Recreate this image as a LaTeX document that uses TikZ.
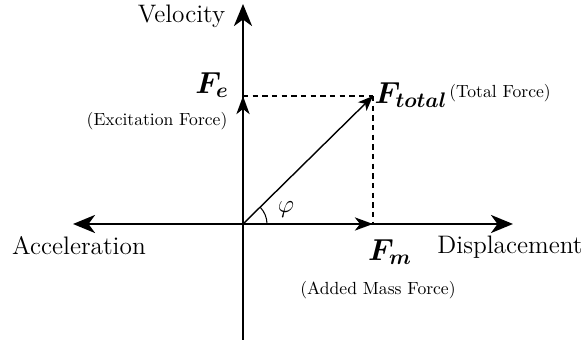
\documentclass[tikz,border=0pt]{standalone}
\usepackage{bm}
\usetikzlibrary{arrows.meta,calc}
\begin{document}
\begin{tikzpicture}[
  axis/.style={line width=1.6pt,-{Stealth[length=4.4mm,width=3.6mm,inset=1.3mm]}},
  comp/.style={line width=1.6pt,-{Stealth[length=3.6mm,width=2.6mm,inset=1mm]}},
  vec/.style={line width=0.8pt,-{Stealth[length=3mm,width=2.4mm,inset=0.8mm]}},
  proj/.style={line width=0.6pt,dash pattern=on 3pt off 2.5pt},
  big/.style={font=\Large},
  force/.style={font=\LARGE}]
\useasboundingbox (0,0) rectangle (11.72,6.88);

% axes
\coordinate (O) at (4.86,2.40);
\coordinate (top) at (4.86,6.80);
\coordinate (bot) at (4.86,0.08);
\coordinate (left) at (1.46,2.40);
\coordinate (right) at (10.26,2.40);
\draw[line width=1.6pt] (O) -- (bot);
\draw[axis] (O) -- (top);
\draw[axis] (O) -- (left);
\draw[axis] (O) -- (right);

% force vector and its components
\coordinate (T) at (7.46,4.96);
\coordinate (Fe) at (4.86,4.96);
\coordinate (Fm) at (7.46,2.40);
\draw[proj] (Fe) -- (T);
\draw[proj] (T) -- (Fm);
\draw[comp] (O) -- (Fe);
\draw[comp] (O) -- (Fm);
\draw[vec] (O) -- (T);
\draw[line width=0.6pt] ($(O)+(0.48,0)$) arc (0:44.6:0.48);

% labels
\node[big] (vel) at (3.63,6.56) {Velocity};
\node[big] (acc) at (1.58,1.96) {Acceleration};
\node[big] (disp) at (10.2,1.93) {Displacement};
\node[big] (phi) at (5.72,2.68) {$\varphi$};
\node[force] (fe) at (4.24,5.18) {$\bm{F}_{\bm{e}}$};
\node (fetxt) at (3.14,4.46) {(Excitation Force)};
\node[force] (ft) at (8.22,4.98) {$\bm{F}_{\bm{total}}$};
\node (fttxt) at (10.0,5.02) {(Total Force)};
\node[force] (fm) at (7.8,1.84) {$\bm{F}_{\bm{m}}$};
\node (fmtxt) at (7.56,1.08) {(Added Mass Force)};
\end{tikzpicture}
\end{document}
